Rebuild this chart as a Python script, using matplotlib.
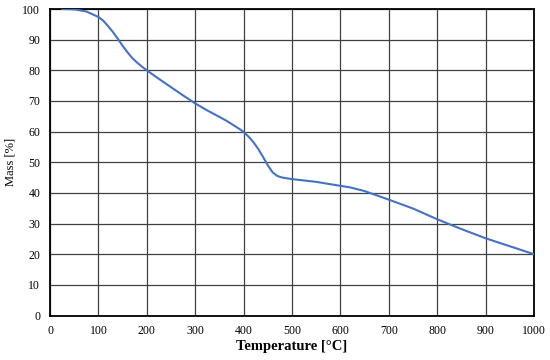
import matplotlib
matplotlib.use('agg')
import matplotlib.pyplot as plt
import numpy as np

temperature = [25, 50, 75, 100, 110, 120, 130, 140, 150, 160, 170, 180, 190, 200, 225, 250,
               275, 300, 325, 350, 365, 380, 390, 400, 410, 420, 430, 440, 450, 460, 470,
               480, 500, 550, 600, 620, 650, 700, 750, 800, 850, 900, 950, 1000]
mass = [100, 99.9, 99.2, 97.4, 96.2, 94.4, 92.5, 90.3, 88.0, 85.9, 84.0, 82.5, 81.2, 80,
        77.2, 74.5, 71.8, 69.2, 66.9, 64.8, 63.5, 62.0, 61.0, 59.9, 58.4, 56.6, 54.4, 51.8,
        49.0, 46.7, 45.5, 45.0, 44.5, 43.6, 42.3, 41.8, 40.6, 37.8, 34.9, 31.4, 28.2, 25.2,
        22.6, 20]

plt.rcParams['font.family'] = ['Liberation Serif', 'DejaVu Serif']

fig = plt.figure(figsize=(5.5, 3.6), dpi=100)
ax = fig.add_axes([50 / 550, 1 - 315.5 / 360, 484 / 550, 306.5 / 360])

x = np.array(temperature)
y = np.array(mass)
ax.plot(x, y, color='#4472C4', linewidth=1.5, zorder=3)

ax.set_xlim(0, 1000)
ax.set_ylim(0, 100)
ax.set_xticks(range(0, 1001, 100))
ax.set_yticks(range(0, 101, 10))
ax.grid(True, color='#404040', linewidth=0.9)
ax.tick_params(length=0, labelsize=8.5, pad=7)
for s in ax.spines.values():
    s.set_linewidth(1.3)
    s.set_color('black')

ax.set_xlabel('Temperature [°C]', fontsize=10.5, fontweight='bold', labelpad=2)
ax.set_ylabel('Mass [%]', fontsize=9, labelpad=4)

plt.savefig('out.png', dpi=100)
